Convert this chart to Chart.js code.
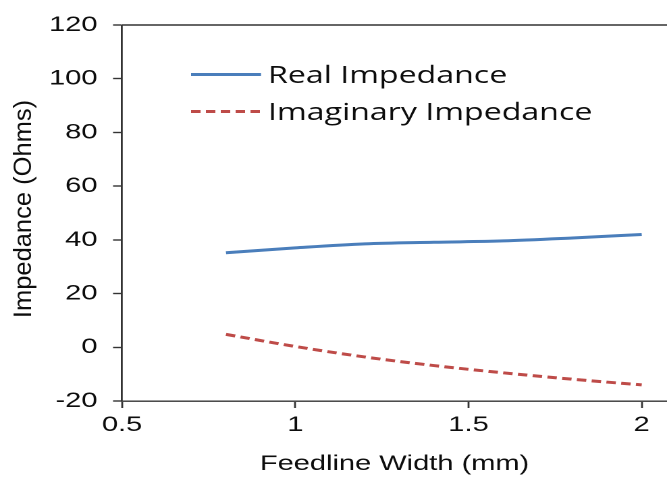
<!DOCTYPE html>
<html><head><meta charset="utf-8">
<script src="https://cdn.jsdelivr.net/npm/chart.js@4"></script>
<style>
html,body{margin:0;padding:0;background:#fff;overflow:hidden;}
#wrap{width:494px;height:481px;transform:scaleX(1.3502);transform-origin:0 0;}
</style></head><body>
<div id="wrap"><canvas id="c" width="494" height="481"></canvas></div>
<script>
// ---- data ----
const feedlineWidths = [0.8, 1.0, 1.2, 1.4, 1.6, 1.8, 2.0];
const realImpedance = [35.2, 37.0, 38.5, 39.1, 39.6, 40.7, 42.0];
const imaginaryImpedance = [4.8, 0.3, -3.6, -6.8, -9.5, -11.9, -14.0];
const xTickValues = [0.5, 1, 1.5, 2];
const yTickValues = [-20, 0, 20, 40, 60, 80, 100, 120];
const seriesLabels = ['Real Impedance', 'Imaginary Impedance'];
const xTitle = 'Feedline Width (mm)';
const yTitle = 'Impedance (Ohms)';

const STRETCH = 1.3502;
const AXIS_COLOR = '#333';
const TEXT_COLOR = '#0d0d0d';
const ARIAL = '"Liberation Sans", Arial, sans-serif';

const toPoints = (ys) => feedlineWidths.map((x, i) => ({x: x, y: ys[i]}));

const topBorder = {
  id: 'topBorder',
  afterDraw(chart) {
    const {ctx, chartArea} = chart;
    ctx.save();
    ctx.strokeStyle = AXIS_COLOR;
    ctx.lineWidth = 1.4;
    ctx.beginPath();
    ctx.moveTo(chartArea.left, chartArea.top);
    ctx.lineTo(chartArea.right, chartArea.top);
    ctx.stroke();
    ctx.restore();
  }
};

const insideLegend = {
  id: 'insideLegend',
  afterDraw(chart) {
    const {ctx} = chart;
    const rows = [83, 120];
    const lineY = [74.5, 111.5];
    ctx.save();
    chart.data.datasets.forEach((ds, i) => {
      ctx.strokeStyle = ds.borderColor;
      ctx.lineWidth = 3;
      ctx.setLineDash(ds.borderDash || []);
      ctx.beginPath();
      ctx.moveTo(141.5, lineY[i]);
      ctx.lineTo(193.3, lineY[i]);
      ctx.stroke();
      ctx.setLineDash([]);
      ctx.fillStyle = TEXT_COLOR;
      ctx.font = '23.8px "Open Sans", sans-serif';
      ctx.textAlign = 'left';
      ctx.textBaseline = 'alphabetic';
      ctx.fillText(ds.label, 198.5, rows[i]);
    });
    ctx.restore();
  }
};

const yAxisTitle = {
  id: 'yAxisTitle',
  afterDraw(chart) {
    const {ctx, chartArea} = chart;
    ctx.save();
    ctx.scale(1 / STRETCH, 1);
    ctx.translate(24, (chartArea.top + chartArea.bottom) / 2 - 4);
    ctx.rotate(-Math.PI / 2);
    ctx.fillStyle = TEXT_COLOR;
    ctx.font = '25.5px ' + ARIAL;
    ctx.textAlign = 'center';
    ctx.textBaseline = 'middle';
    ctx.fillText(yTitle, 0, 0);
    ctx.restore();
  }
};

new Chart(document.getElementById('c'), {
  type: 'line',
  data: {
    datasets: [
      {label: seriesLabels[0], data: toPoints(realImpedance), borderColor: '#4A7EBB', borderWidth: 3,
       pointRadius: 0, tension: 0.4, cubicInterpolationMode: 'monotone', fill: false},
      {label: seriesLabels[1], data: toPoints(imaginaryImpedance), borderColor: '#BE4B48', borderWidth: 3,
       borderDash: [7, 4], pointRadius: 0, tension: 0.4, cubicInterpolationMode: 'monotone', fill: false}
    ]
  },
  options: {
    responsive: false,
    animation: false,
    devicePixelRatio: 2,
    layout: {padding: {top: 25, right: 0, bottom: 0, left: 0}},
    plugins: {legend: {display: false}, tooltip: {enabled: false}},
    scales: {
      x: {
        type: 'linear', min: 0.5, max: 2.073,
        afterBuildTicks: (s) => { s.ticks = xTickValues.map(v => ({value: v})); },
        afterFit: (s) => { s.height = 80; },
        grid: {drawOnChartArea: false, drawTicks: true, tickLength: 7, tickColor: AXIS_COLOR, tickWidth: 1.4},
        border: {display: true, color: AXIS_COLOR, width: 1.4},
        ticks: {padding: 4, color: TEXT_COLOR, font: {family: ARIAL, size: 21.5}, maxRotation: 0,
                callback: (v) => String(v)},
        title: {display: true, text: xTitle, color: TEXT_COLOR, font: {family: ARIAL, size: 21.5},
                padding: {top: 0, bottom: 4}}
      },
      y: {
        type: 'linear', min: -20, max: 120,
        afterBuildTicks: (s) => { s.ticks = yTickValues.map(v => ({value: v})); },
        afterFit: (s) => { s.width = 90.4; },
        grid: {drawOnChartArea: false, drawTicks: true, tickLength: 6.7, tickColor: AXIS_COLOR, tickWidth: 1.4},
        border: {display: true, color: AXIS_COLOR, width: 1.4},
        ticks: {padding: 11.5, color: TEXT_COLOR, font: {family: ARIAL, size: 21.5},
                callback: (v) => String(v)}
      }
    }
  },
  plugins: [topBorder, insideLegend, yAxisTitle]
});
</script>
</body></html>
